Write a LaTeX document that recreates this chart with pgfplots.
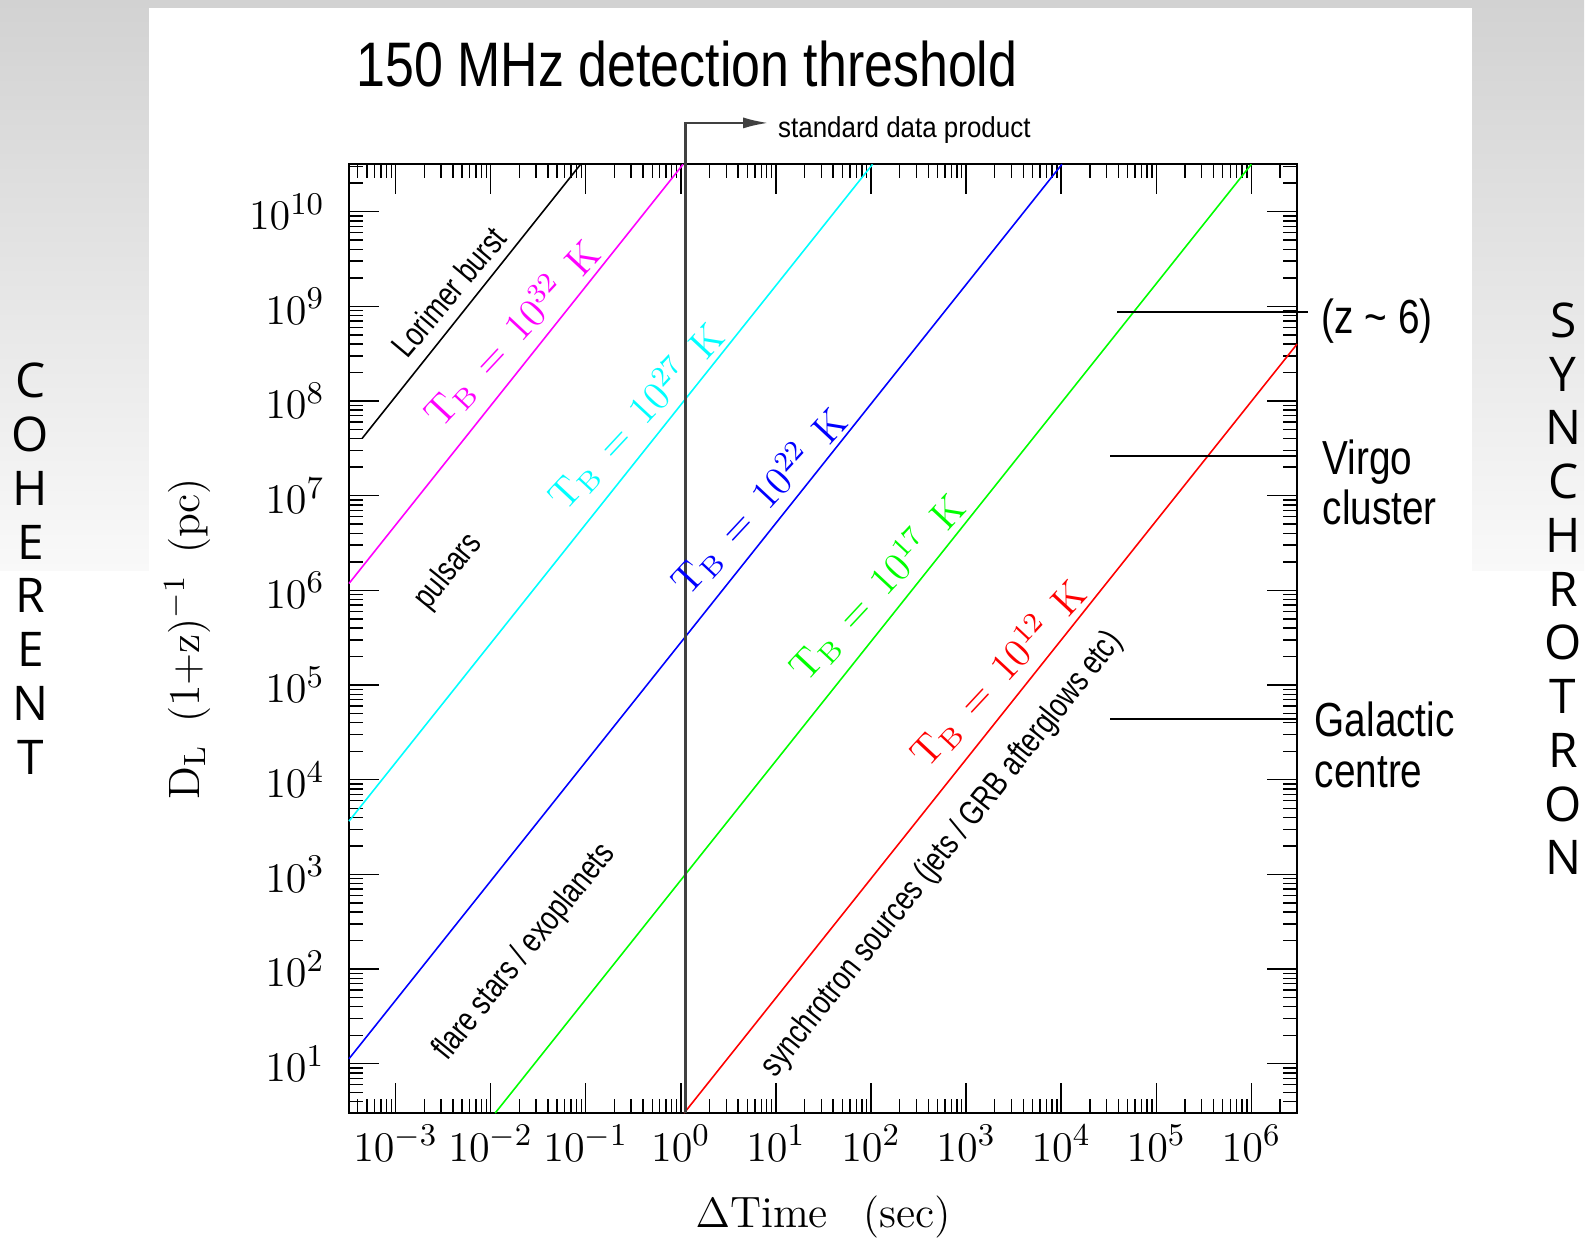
\documentclass[border=0pt]{standalone}
\usepackage{fontspec}
\usepackage{pgfplots}
\pgfplotsset{compat=1.18}
\usetikzlibrary{arrows.meta}
\newfontfamily\helv{Liberation Sans}
\newfontfamily\osans{Open Sans}
\definecolor{bgtop}{RGB}{210,210,210}
\definecolor{bgbot}{RGB}{249,249,249}
\definecolor{pmag}{RGB}{255,0,255}
\definecolor{pcyan}{RGB}{0,255,255}
\definecolor{pblue}{RGB}{0,0,255}
\definecolor{pgreen}{RGB}{0,255,0}
\definecolor{pred}{RGB}{255,0,0}
\begin{document}
\begin{tikzpicture}
\useasboundingbox (0,0) rectangle (15.85cm,12.37cm);
\begin{scope}[x=0.01cm,y=-0.01cm,shift={(0cm,12.37cm)}]
\shade[top color=bgtop,bottom color=bgbot] (0,0) rectangle (1585,571);
\fill[white] (0,571) rectangle (1585,1237);
\fill[white] (149,8) rectangle (1473,1237);
\end{scope}
\begin{axis}[at={(3.49cm,1.24cm)},anchor=south west,scale only axis,
  width=9.48cm,height=9.487cm,
  xmode=log,ymode=log,
  xmin=3.2359e-4,xmax=3.02e6,ymin=3.02,ymax=3.1623e10,
  xtick={1e-3,1e-2,1e-1,1,10,100,1000,1e4,1e5,1e6},
  ytick={10,100,1000,1e4,1e5,1e6,1e7,1e8,1e9,1e10},
  minor xtick={4e-4,5e-4,6e-4,7e-4,8e-4,9e-4,2e-3,3e-3,4e-3,5e-3,6e-3,7e-3,8e-3,9e-3,0.02,0.03,0.04,0.05,0.06,0.07,0.08,0.09,0.2,0.3,0.4,0.5,0.6,0.7,0.8,0.9,2,3,4,5,6,7,8,9,20,30,40,50,60,70,80,90,200,300,400,500,600,700,800,900,2000,3000,4000,5000,6000,7000,8000,9000,2e4,3e4,4e4,5e4,6e4,7e4,8e4,9e4,2e5,3e5,4e5,5e5,6e5,7e5,8e5,9e5,2e6,3e6},
  minor ytick={4,5,6,7,8,9,20,30,40,50,60,70,80,90,200,300,400,500,600,700,800,900,2000,3000,4000,5000,6000,7000,8000,9000,2e4,3e4,4e4,5e4,6e4,7e4,8e4,9e4,2e5,3e5,4e5,5e5,6e5,7e5,8e5,9e5,2e6,3e6,4e6,5e6,6e6,7e6,8e6,9e6,2e7,3e7,4e7,5e7,6e7,7e7,8e7,9e7,2e8,3e8,4e8,5e8,6e8,7e8,8e8,9e8,2e9,3e9,4e9,5e9,6e9,7e9,8e9,9e9,2e10,3e10},
  tick align=inside,major tick length=0.3cm,minor tick length=0.14cm,
  tick style={line width=0.4pt,black},
  axis line style={line width=0.6pt},
  tick label style={font=\fontsize{13.2}{15}\selectfont},
  yticklabel style={xshift=-0.12cm},
  label style={font=\fontsize{12.5}{15}\selectfont},
  xlabel={$\Delta\mathrm{Time}\hspace{0.8em}\mathrm{(sec)}$},
  ylabel={$\mathrm{D_L}\hspace{0.5em}\mathrm{(1{+}z)^{-1}}\hspace{0.5em}\mathrm{(pc)}$},
  xlabel style={at={(axis description cs:0.5,-0.1202)},anchor=base},
  ylabel style={at={(axis description cs:-0.171,0.5)},anchor=center},
  clip=false]
\addplot[black,line width=0.45pt] coordinates {(4.4668e-4,4.0458e7) (0.088308,3.1623e10)};
\addplot[pmag,line width=0.45pt] coordinates {(3.2359e-4,1.1821e6) (1.0563,3.1623e10)};
\addplot[pcyan,line width=0.45pt] coordinates {(3.2359e-4,3652.5) (103.73,3.1623e10)};
\addplot[pblue,line width=0.45pt] coordinates {(3.2359e-4,11.287) (10184,3.1623e10)};
\addplot[pgreen,line width=0.45pt] coordinates {(0.011159,3.02) (1.0e6,3.1623e10)};
\addplot[pred,line width=0.45pt] coordinates {(1.0837,3.02) (3.02e6,3.9884e8)};
\addplot[black!75,line width=0.6pt,-{Latex[length=0.25cm,width=0.11cm]}] coordinates {(1.12,3.02) (1.12,8.65e10) (8.28,8.65e10)};
\addplot[black,line width=0.5pt] coordinates {(3.873e4,8.71e8) (3.945e6,8.71e8)};
\addplot[black,line width=0.5pt] coordinates {(3.266e4,2.624e7) (3.1e6,2.624e7)};
\addplot[black,line width=0.5pt] coordinates {(3.266e4,4.375e4) (3.1e6,4.375e4)};
\end{axis}
\begin{scope}[x=0.01cm,y=-0.01cm,shift={(0cm,12.37cm)}]
\node[anchor=base,xscale=0.825,inner sep=0,font=\helv\fontsize{17.9}{20}\selectfont] at (687.5,87) {150 MHz detection threshold};
\node[anchor=base west,xscale=0.9,inner sep=0,font=\helv\fontsize{8.2}{10}\selectfont] at (778,137.3) {standard data product};
% labels along lines
\node[rotate=50,xscale=0.78,inner sep=0,font=\helv\fontsize{9.7}{11}\selectfont] at (449,292) {Lorimer burst};
\node[rotate=51,xscale=0.78,inner sep=0,font=\helv\fontsize{9.7}{11}\selectfont] at (449,572) {pulsars};
\node[rotate=51,xscale=0.78,inner sep=0,font=\helv\fontsize{9.7}{11}\selectfont] at (525,953) {flare stars / exoplanets};
\node[rotate=51.5,xscale=0.78,inner sep=0,font=\helv\fontsize{9.7}{11}\selectfont] at (943,855) {synchrotron sources (jets / GRB afterglows etc)};
\node[rotate=47,text=pmag,inner sep=0,font=\fontsize{11.4}{13}\selectfont] at (513,334) {$\mathrm{T_B}\hspace{0.45em}{=}\hspace{0.45em}\mathrm{10^{32}}\hspace{0.45em}\mathrm{K}$};
\node[rotate=47,text=pcyan,inner sep=0,font=\fontsize{11.4}{13}\selectfont] at (637,417) {$\mathrm{T_B}\hspace{0.45em}{=}\hspace{0.45em}\mathrm{10^{27}}\hspace{0.45em}\mathrm{K}$};
\node[rotate=47,text=pblue,inner sep=0,font=\fontsize{11.4}{13}\selectfont] at (760,502) {$\mathrm{T_B}\hspace{0.45em}{=}\hspace{0.45em}\mathrm{10^{22}}\hspace{0.45em}\mathrm{K}$};
\node[rotate=47,text=pgreen,inner sep=0,font=\fontsize{11.4}{13}\selectfont] at (878,588) {$\mathrm{T_B}\hspace{0.45em}{=}\hspace{0.45em}\mathrm{10^{17}}\hspace{0.45em}\mathrm{K}$};
\node[rotate=47,text=pred,inner sep=0,font=\fontsize{11.4}{13}\selectfont] at (999,674) {$\mathrm{T_B}\hspace{0.45em}{=}\hspace{0.45em}\mathrm{10^{12}}\hspace{0.45em}\mathrm{K}$};
% right annotations
\node[anchor=base west,xscale=0.81,inner sep=0,font=\helv\fontsize{13.6}{16}\selectfont] at (1322,334) {(z \textasciitilde\ 6)};
\node[anchor=base west,xscale=0.81,inner sep=0,font=\helv\fontsize{13.6}{16}\selectfont] at (1323,475) {Virgo};
\node[anchor=base west,xscale=0.81,inner sep=0,font=\helv\fontsize{13.6}{16}\selectfont] at (1323,525) {cluster};
\node[anchor=base west,xscale=0.81,inner sep=0,font=\helv\fontsize{13.6}{16}\selectfont] at (1315,737) {Galactic};
\node[anchor=base west,xscale=0.81,inner sep=0,font=\helv\fontsize{13.6}{16}\selectfont] at (1315,788) {centre};
% side words
\foreach \c [count=\i from 0] in {C,O,H,E,R,E,N,T}
  \node[inner sep=0,font=\osans\fontsize{13.6}{16}\selectfont] at (30.5,381+53.8*\i) {\c};
\foreach \c [count=\i from 0] in {S,Y,N,C,H,R,O,T,R,O,N}
  \node[inner sep=0,font=\osans\fontsize{13.6}{16}\selectfont] at (1564,320.4+53.8*\i) {\c};
\end{scope}
\end{tikzpicture}
\end{document}
